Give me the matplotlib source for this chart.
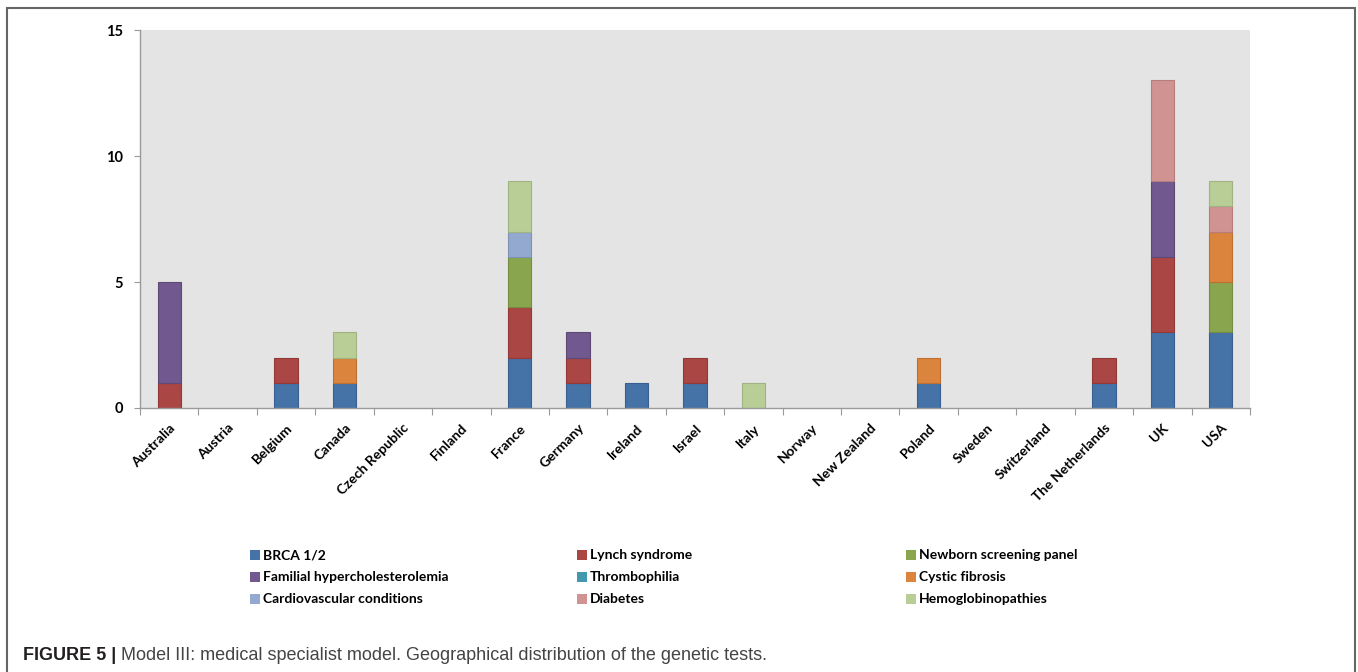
import numpy as np
import matplotlib.pyplot as plt
from matplotlib.patches import Rectangle

countries = ['Australia', 'Austria', 'Belgium', 'Canada', 'Czech Republic', 'Finland',
             'France', 'Germany', 'Ireland', 'Israel', 'Italy', 'Norway', 'New Zealand',
             'Poland', 'Sweden', 'Switzerland', 'The Netherlands', 'UK', 'USA']

tests = ['BRCA 1/2', 'Lynch syndrome', 'Newborn screening panel',
         'Familial hypercholesterolemia', 'Thrombophilia', 'Cystic fibrosis',
         'Cardiovascular conditions', 'Diabetes', 'Hemoglobinopathies']

colors = ['#4572A7', '#AA4643', '#89A54E', '#71588F', '#4198AF',
          '#DB843D', '#93A9CF', '#D19392', '#B9CD96']
edges = ['#3A6092', '#933A38', '#748D41', '#5E4977', '#357F93',
         '#BE7033', '#7E92B4', '#B57E7D', '#A0B381']

#            Aus Aut Bel Can Cze Fin Fra Ger Ire Isr Ita Nor NZ  Pol Swe Swi NL  UK  USA
brca     = [0, 0, 1, 1, 0, 0, 2, 1, 1, 1, 0, 0, 0, 1, 0, 0, 1, 3, 3]
lynch    = [1, 0, 1, 0, 0, 0, 2, 1, 0, 1, 0, 0, 0, 0, 0, 0, 1, 3, 0]
newborn  = [0, 0, 0, 0, 0, 0, 2, 0, 0, 0, 0, 0, 0, 0, 0, 0, 0, 0, 2]
fh       = [4, 0, 0, 0, 0, 0, 0, 1, 0, 0, 0, 0, 0, 0, 0, 0, 0, 3, 0]
thrombo  = [0, 0, 0, 0, 0, 0, 0, 0, 0, 0, 0, 0, 0, 0, 0, 0, 0, 0, 0]
cf       = [0, 0, 0, 1, 0, 0, 0, 0, 0, 0, 0, 0, 0, 1, 0, 0, 0, 0, 2]
cardio   = [0, 0, 0, 0, 0, 0, 1, 0, 0, 0, 0, 0, 0, 0, 0, 0, 0, 0, 0]
diabetes = [0, 0, 0, 0, 0, 0, 0, 0, 0, 0, 0, 0, 0, 0, 0, 0, 0, 4, 1]
hemo     = [0, 0, 0, 1, 0, 0, 2, 0, 0, 0, 1, 0, 0, 0, 0, 0, 0, 0, 1]

series = [brca, lynch, newborn, fh, thrombo, cf, cardio, diabetes, hemo]

W, H = 1358, 672
fig = plt.figure(figsize=(W / 100, H / 100), dpi=100)
ax = fig.add_axes([140 / W, 1 - 408 / H, (1250 - 140) / W, (408 - 30) / H])
ax.set_facecolor('#E4E4E4')

x = np.arange(len(countries))
bottom = np.zeros(len(countries))
for vals, name, c, ec in zip(series, tests, colors, edges):
    vals = np.array(vals, dtype=float)
    keep = vals > 0   # skip empty segments so no stray edge lines appear
    if keep.any():
        ax.bar(x[keep], vals[keep], 0.4, bottom=bottom[keep], color=c,
               edgecolor=ec, linewidth=0.8, label=name)
    bottom += vals

ax.set_xlim(-0.5, len(countries) - 0.5)
ax.set_ylim(0, 15)
ax.set_yticks([0, 5, 10, 15])
for s in ['top', 'right']:
    ax.spines[s].set_visible(False)
for s in ['left', 'bottom']:
    ax.spines[s].set_color('#9A9A9A')
    ax.spines[s].set_linewidth(1.0)

lab_font = dict(family='Lato', weight='bold', size=10)
ax.set_yticklabels(['0', '5', '10', '15'], fontdict=dict(family='Lato', weight='bold', size=10.5))
ax.tick_params(axis='y', length=4, color='#9A9A9A', pad=8)

# category boundaries carry the ticks, names sit at bar centres
ax.set_xticks(np.arange(len(countries) + 1) - 0.5)
ax.set_xticklabels([])
ax.tick_params(axis='x', length=5, color='#9A9A9A')
for i, name in enumerate(countries):
    ax.text(i, -0.55, name, rotation=45, ha='right', va='top',
            rotation_mode='anchor', **lab_font)

# legend in three columns
col_x = [250, 577, 906]
row_y = [555, 577, 599]
for k, (name, c) in enumerate(zip(tests, colors)):
    r, cl = divmod(k, 3)
    fx, fy = col_x[cl] / W, 1 - row_y[r] / H
    fig.patches.append(Rectangle((fx, fy - 5 / H), 10 / W, 10 / H, facecolor=c,
                                 edgecolor='none', transform=fig.transFigure))
    fig.text(fx + 13 / W, fy, name, ha='left', va='center', **lab_font)

# outer frame
fig.patches.append(Rectangle((7 / W, -0.01), (1355 - 7) / W, 1.01 - 8 / H, fill=False,
                             edgecolor='#666666', linewidth=1.5, transform=fig.transFigure))

fig.text(23 / W, 1 - 655 / H, 'FIGURE 5 |', ha='left', va='center', family='Liberation Sans',
         weight='bold', size=13, color='#231F20')
fig.text(121 / W, 1 - 655 / H, 'Model III: medical specialist model. Geographical distribution of the genetic tests.',
         ha='left', va='center', family='Liberation Sans', size=13, color='#444444')

fig.savefig('out.png', dpi=100)
